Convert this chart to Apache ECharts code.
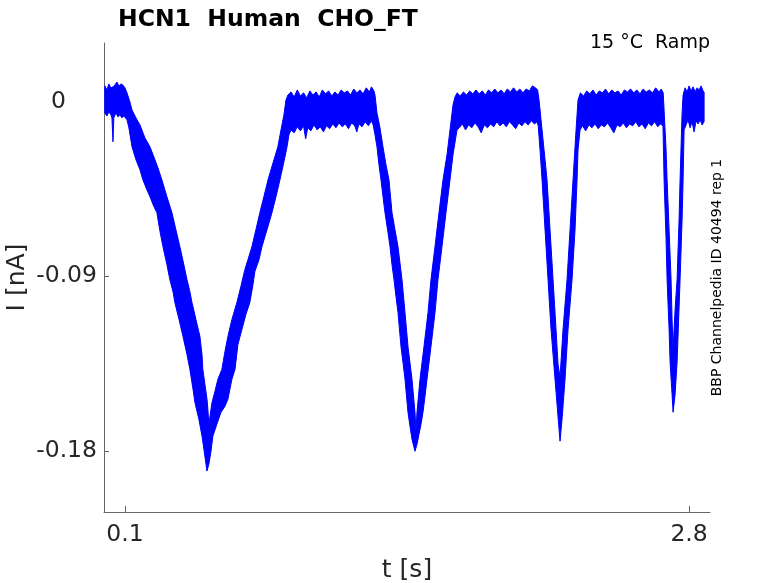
<!DOCTYPE html>
<html>
<head>
<meta charset="utf-8">
<script src="https://cdn.jsdelivr.net/npm/echarts@6/dist/echarts.min.js"></script>
<style>
html,body{margin:0;padding:0;background:#fff;}
#chart{width:778px;height:583px;}
</style>
</head>
<body>
<div id="chart"></div>
<script>
// ---- Data (t in s, I in nA) ----
const titleText = 'HCN1  Human  CHO_FT';
const conditionText = '15 °C  Ramp';
const sourceText = 'BBP Channelpedia ID 40494 rep 1';
const xTickValues = [0.1, 2.8];
const yTickValues = [-0.18, -0.09, 0];
const xRange = [0, 2.9];
const yRange = [-0.2115, 0.0302];

// upper envelope of the overlaid noisy sweeps
const upperEdge = [
[0.004,0.0081],[0.014,0.0060],[0.023,0.0091],[0.033,0.0071],[0.043,0.0076],[0.052,0.0086],[0.062,0.0101],[0.071,0.0081],[0.081,0.0091],[0.090,0.0086],[0.100,0.0071],[0.110,0.0045],
[0.124,-0.0002],[0.134,-0.0043],[0.153,-0.0084],[0.172,-0.0120],[0.196,-0.0187],[0.220,-0.0233],[0.244,-0.0300],[0.258,-0.0341],[0.277,-0.0403],[0.301,-0.0490],[0.325,-0.0572],[0.344,-0.0660],[0.363,-0.0747],[0.382,-0.0840],[0.397,-0.0917],[0.411,-0.0979],[0.421,-0.1035],[0.440,-0.1123],[0.459,-0.1210],[0.469,-0.1303],[0.473,-0.1380],[0.483,-0.1457],[0.493,-0.1534],[0.497,-0.1586],[0.502,-0.1663],
[0.512,-0.1586],[0.517,-0.1550],[0.531,-0.1493],[0.545,-0.1431],[0.564,-0.1380],[0.579,-0.1287],[0.593,-0.1210],[0.612,-0.1123],[0.636,-0.1035],[0.655,-0.0953],[0.674,-0.0866],[0.689,-0.0814],[0.708,-0.0747],[0.727,-0.0660],[0.746,-0.0572],[0.765,-0.0490],[0.785,-0.0403],[0.809,-0.0315],[0.832,-0.0233],[0.847,-0.0146],[0.861,-0.0068],[0.871,0.0009],
[0.880,0.0034],[0.895,0.0050],[0.910,0.0024],[0.925,0.0060],[0.940,0.0029],[0.955,0.0045],[0.970,0.0019],[0.985,0.0055],[1.000,0.0034],[1.015,0.0050],[1.030,0.0024],[1.045,0.0060],[1.060,0.0040],[1.075,0.0055],[1.090,0.0029],[1.105,0.0050],[1.120,0.0034],[1.135,0.0060],[1.150,0.0045],[1.165,0.0055],[1.180,0.0034],[1.195,0.0065],[1.210,0.0045],[1.225,0.0060],[1.240,0.0040],[1.255,0.0071],[1.270,0.0050],[1.280,0.0076],[1.292,0.0055],
[1.2968,0.0034],[1.3063,-0.0058],[1.3207,-0.0135],[1.3351,-0.0233],[1.3494,-0.0326],[1.3638,-0.0403],[1.3781,-0.0572],[1.3925,-0.0660],[1.4069,-0.0747],[1.4260,-0.0917],[1.4404,-0.1087],[1.4547,-0.1262],[1.4739,-0.1431],[1.4882,-0.1601],[1.4930,-0.1699],
[1.4978,-0.1601],[1.5122,-0.1431],[1.5313,-0.1262],[1.5505,-0.1087],[1.5648,-0.0917],[1.5840,-0.0747],[1.6031,-0.0572],[1.6223,-0.0403],[1.6414,-0.0274],[1.6558,-0.0146],[1.6702,-0.0017],[1.6797,0.0024],
[1.690,0.0045],[1.705,0.0029],[1.720,0.0050],[1.735,0.0034],[1.750,0.0055],[1.765,0.0040],[1.780,0.0060],[1.795,0.0040],[1.810,0.0055],[1.825,0.0034],[1.840,0.0060],[1.855,0.0045],[1.870,0.0065],[1.885,0.0045],[1.900,0.0060],[1.915,0.0040],[1.930,0.0065],[1.945,0.0050],[1.960,0.0071],[1.975,0.0050],[1.990,0.0065],[2.005,0.0045],[2.020,0.0065],[2.035,0.0055],[2.050,0.0081],[2.065,0.0071],[2.075,0.0060],
[2.0818,0.0009],[2.0914,-0.0094],[2.1058,-0.0248],[2.1201,-0.0403],[2.1345,-0.0660],[2.1489,-0.0917],[2.1632,-0.1174],[2.1728,-0.1354],[2.1824,-0.1421],
[2.1967,-0.1174],[2.2159,-0.0917],[2.2302,-0.0660],[2.2446,-0.0403],[2.2590,-0.0146],[2.2685,0.0009],
[2.280,0.0045],[2.295,0.0029],[2.310,0.0055],[2.325,0.0040],[2.340,0.0060],[2.355,0.0034],[2.370,0.0055],[2.385,0.0045],[2.400,0.0065],[2.415,0.0040],[2.430,0.0060],[2.445,0.0045],[2.460,0.0055],[2.475,0.0034],[2.490,0.0060],[2.505,0.0050],[2.520,0.0065],[2.535,0.0045],[2.550,0.0060],[2.565,0.0040],[2.580,0.0065],[2.595,0.0050],[2.610,0.0060],[2.625,0.0045],[2.640,0.0071],[2.655,0.0050],[2.667,0.0065],[2.676,0.0045],
[2.6802,-0.0043],[2.6898,-0.0248],[2.6946,-0.0403],[2.7042,-0.0660],[2.7137,-0.0917],[2.7185,-0.1123],[2.7233,-0.1277],
[2.7329,-0.1071],[2.7425,-0.0917],[2.7520,-0.0608],[2.7568,-0.0403],[2.7664,-0.0058],[2.7712,0.0034],
[2.7807,0.0071],[2.7903,0.0050],[2.7999,0.0081],[2.8095,0.0055],[2.8191,0.0076],[2.8286,0.0050],[2.8382,0.0071],[2.8478,0.0060],[2.8574,0.0081],[2.8669,0.0055],[2.8717,0.0050]
];

// lower envelope of the overlaid noisy sweeps
const lowerEdge = [
[0.004,-0.0058],[0.014,-0.0074],[0.023,-0.0053],[0.033,-0.0068],[0.038,-0.0084],[0.043,-0.0207],[0.047,-0.0084],[0.057,-0.0058],[0.067,-0.0079],[0.076,-0.0068],[0.086,-0.0084],[0.095,-0.0074],[0.110,-0.0094],
[0.119,-0.0135],[0.134,-0.0233],[0.153,-0.0300],[0.172,-0.0351],[0.186,-0.0403],[0.205,-0.0454],[0.220,-0.0490],[0.239,-0.0542],[0.253,-0.0572],[0.268,-0.0670],[0.282,-0.0747],[0.301,-0.0840],[0.315,-0.0917],[0.330,-0.0979],[0.339,-0.1035],[0.359,-0.1123],[0.378,-0.1210],[0.397,-0.1303],[0.411,-0.1380],[0.426,-0.1483],[0.435,-0.1550],[0.454,-0.1637],[0.469,-0.1724],[0.478,-0.1791],[0.488,-0.1868],[0.4925,-0.1904],
[0.502,-0.1868],[0.512,-0.1802],[0.521,-0.1724],[0.540,-0.1663],[0.560,-0.1601],[0.579,-0.1570],[0.593,-0.1534],[0.612,-0.1431],[0.627,-0.1380],[0.641,-0.1251],[0.660,-0.1174],[0.679,-0.1097],[0.698,-0.1035],[0.713,-0.0943],[0.722,-0.0876],[0.742,-0.0814],[0.756,-0.0747],[0.780,-0.0660],[0.804,-0.0572],[0.823,-0.0490],[0.842,-0.0403],[0.861,-0.0310],[0.876,-0.0233],[0.885,-0.0171],
[0.895,-0.0146],[0.910,-0.0161],[0.925,-0.0130],[0.940,-0.0151],[0.955,-0.0125],[0.965,-0.0192],[0.975,-0.0135],[0.990,-0.0151],[1.005,-0.0120],[1.020,-0.0146],[1.035,-0.0130],[1.050,-0.0156],[1.065,-0.0125],[1.080,-0.0140],[1.095,-0.0115],[1.110,-0.0135],[1.125,-0.0110],[1.140,-0.0130],[1.155,-0.0115],[1.170,-0.0140],[1.185,-0.0110],[1.200,-0.0125],[1.210,-0.0156],[1.220,-0.0115],[1.235,-0.0130],[1.250,-0.0104],[1.265,-0.0125],[1.280,-0.0099],[1.288,-0.0120],
[1.2968,-0.0171],[1.3063,-0.0233],[1.3159,-0.0326],[1.3255,-0.0403],[1.3351,-0.0490],[1.3446,-0.0572],[1.3590,-0.0675],[1.3686,-0.0747],[1.3781,-0.0840],[1.3877,-0.0917],[1.3973,-0.1005],[1.4069,-0.1087],[1.4212,-0.1262],[1.4308,-0.1344],[1.4404,-0.1431],[1.4547,-0.1601],[1.4643,-0.1673],[1.4739,-0.1740],[1.4882,-0.1802],
[1.4978,-0.1766],[1.5074,-0.1714],[1.5170,-0.1663],[1.5265,-0.1601],[1.5361,-0.1519],[1.5457,-0.1431],[1.5648,-0.1262],[1.5840,-0.1087],[1.5983,-0.0917],[1.6175,-0.0747],[1.6367,-0.0572],[1.6558,-0.0403],[1.6702,-0.0274],[1.6893,-0.0146],
[1.700,-0.0135],[1.715,-0.0115],[1.730,-0.0146],[1.745,-0.0120],[1.760,-0.0135],[1.775,-0.0110],[1.790,-0.0130],[1.805,-0.0161],[1.820,-0.0120],[1.835,-0.0135],[1.850,-0.0115],[1.865,-0.0130],[1.880,-0.0104],[1.895,-0.0125],[1.910,-0.0110],[1.925,-0.0130],[1.940,-0.0104],[1.955,-0.0120],[1.970,-0.0140],[1.985,-0.0110],[2.000,-0.0125],[2.015,-0.0104],[2.030,-0.0120],[2.045,-0.0099],[2.060,-0.0115],[2.072,-0.0104],[2.078,-0.0125],
[2.0866,-0.0248],[2.0962,-0.0403],[2.1106,-0.0660],[2.1249,-0.0917],[2.1393,-0.1174],[2.1584,-0.1431],[2.1680,-0.1560],[2.1776,-0.1689],[2.1824,-0.1750],
[2.1919,-0.1637],[2.2063,-0.1431],[2.2207,-0.1174],[2.2398,-0.0917],[2.2542,-0.0660],[2.2638,-0.0403],[2.2685,-0.0248],[2.2781,-0.0146],
[2.290,-0.0125],[2.305,-0.0151],[2.320,-0.0120],[2.335,-0.0135],[2.350,-0.0115],[2.365,-0.0140],[2.380,-0.0120],[2.395,-0.0130],[2.410,-0.0110],[2.425,-0.0135],[2.440,-0.0161],[2.455,-0.0120],[2.470,-0.0130],[2.485,-0.0110],[2.500,-0.0135],[2.515,-0.0115],[2.530,-0.0125],[2.545,-0.0104],[2.560,-0.0130],[2.575,-0.0115],[2.590,-0.0140],[2.605,-0.0110],[2.620,-0.0125],[2.635,-0.0104],[2.650,-0.0130],[2.662,-0.0115],[2.675,-0.0125],
[2.6802,-0.0403],[2.6898,-0.0711],[2.6946,-0.0917],[2.7042,-0.1174],[2.7090,-0.1344],[2.7185,-0.1509],[2.7233,-0.1601],
[2.7329,-0.1509],[2.7425,-0.1344],[2.7568,-0.0917],[2.7664,-0.0608],[2.7712,-0.0403],[2.7760,-0.0146],
[2.7855,-0.0120],[2.7951,-0.0094],[2.8047,-0.0135],[2.8143,-0.0104],[2.8238,-0.0156],[2.8334,-0.0099],[2.8430,-0.0115],[2.8526,-0.0094],[2.8621,-0.0120],[2.8717,-0.0104]
];

const FONT = 'DejaVu Sans';
const TEXT_COLOR = '#262626';
const AXIS_COLOR = '#666666';
const TRACE_COLOR = '#0000ff';

const chart = echarts.init(document.getElementById('chart'), null, {renderer: 'canvas'});

const option = {
  backgroundColor: '#ffffff',
  animation: false,
  title: {
    text: titleText,
    left: 113,
    top: 1,
    textStyle: {fontFamily: FONT, fontSize: 23.5, fontWeight: 'bold', color: '#000000', lineHeight: 28}
  },
  grid: {left: 104, right: 68, top: 43, bottom: 71, containLabel: false, outerBoundsMode: 'none'},
  xAxis: {
    type: 'value',
    min: xRange[0],
    max: xRange[1],
    name: 't [s]',
    nameLocation: 'middle',
    nameGap: 46,
    nameMoveOverlap: false,
    nameTextStyle: {fontFamily: FONT, fontSize: 25, color: TEXT_COLOR},
    axisLine: {show: true, onZero: false, lineStyle: {color: AXIS_COLOR, width: 1}},
    axisTick: {show: true, inside: true, length: 6, customValues: xTickValues, lineStyle: {color: AXIS_COLOR}},
    axisLabel: {show: true, margin: 11, customValues: xTickValues, fontFamily: FONT, fontSize: 23.5, color: TEXT_COLOR,
      formatter: v => String(v)},
    splitLine: {show: false}
  },
  yAxis: {
    type: 'value',
    min: yRange[0],
    max: yRange[1],
    name: 'I [nA]',
    nameLocation: 'middle',
    nameGap: 74,
    nameMoveOverlap: false,
    nameTextStyle: {fontFamily: FONT, fontSize: 25, color: TEXT_COLOR},
    axisLine: {show: true, onZero: false, lineStyle: {color: AXIS_COLOR, width: 1}},
    axisTick: {show: true, inside: true, length: 5, customValues: yTickValues, lineStyle: {color: AXIS_COLOR}},
    axisLabel: {show: true, margin: 7, customValues: yTickValues, fontFamily: FONT, fontSize: 23.5, color: TEXT_COLOR,
      formatter: v => (Math.abs(v) < 1e-9 ? '{z|0}' : v.toFixed(2)),
      rich: {z: {fontFamily: FONT, fontSize: 23.5, color: TEXT_COLOR, padding: [0, 31, 0, 0]}}
    },
    splitLine: {show: false}
  },
  graphic: [
    {
      type: 'text',
      right: 68,
      top: 34,
      style: {text: conditionText, fontFamily: FONT, fontSize: 19, fill: '#000000'}
    },
    {
      type: 'text',
      x: 717,
      y: 277.5,
      rotation: Math.PI / 2,
      style: {text: sourceText, fontFamily: FONT, fontSize: 14, fill: '#000000', align: 'center', verticalAlign: 'middle'}
    }
  ],
  series: [
    {
      type: 'custom',
      name: 'trace',
      clip: true,
      data: [[1, -0.1]],
      renderItem: function (params, api) {
        if (params.dataIndex !== 0) return null;
        const pts = upperEdge.map(p => api.coord(p))
          .concat(lowerEdge.slice().reverse().map(p => api.coord(p)));
        return {
          type: 'polygon',
          shape: {points: pts},
          style: {fill: TRACE_COLOR, stroke: TRACE_COLOR, lineWidth: 1, lineJoin: 'miter'}
        };
      }
    }
  ]
};

chart.setOption(option);
</script>
</body>
</html>
